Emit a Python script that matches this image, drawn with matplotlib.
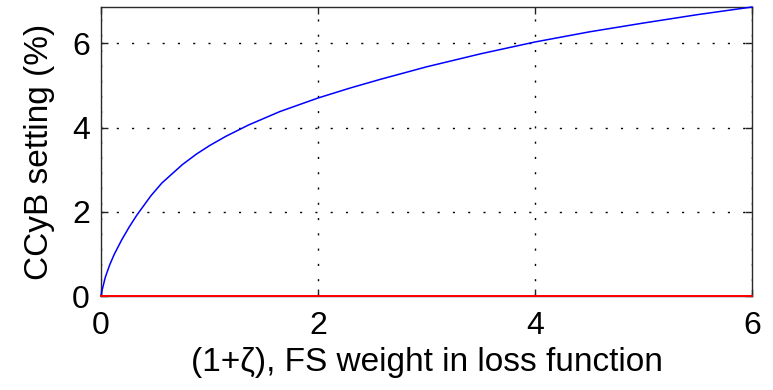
import matplotlib
matplotlib.use("Agg")
import matplotlib.pyplot as plt

# FS weight (1+zeta) against the CCyB setting it produces
weight = [0, 0.01, 0.04, 0.08, 0.12, 0.19, 0.26, 0.33, 0.46, 0.56,
          0.75, 0.88, 1.0, 1.15, 1.36, 1.65, 2.0, 2.3, 2.57, 3.0,
          3.5, 4.0, 4.5, 5.0, 5.5, 6.0]
ccyb = [0, 0.14, 0.45, 0.74, 0.98, 1.33, 1.64, 1.92, 2.38, 2.68,
        3.12, 3.37, 3.57, 3.79, 4.06, 4.38, 4.70, 4.94, 5.14, 5.44,
        5.75, 6.03, 6.27, 6.48, 6.68, 6.86]

# reference line at zero
zero_x = [0, 6]
zero_y = [0, 0]

x_ticks = [0, 2, 4, 6]
y_ticks = [0, 2, 4, 6]

plt.rcParams['font.family'] = ['Liberation Sans', 'DejaVu Sans']

fig = plt.figure(figsize=(7.73, 3.90), dpi=100)
ax = fig.add_axes([0.1307, 0.241, 0.8421, 0.741])

ax.plot(weight, ccyb, color='#0000ff', lw=1.1, zorder=4, clip_on=False)
ax.plot(zero_x, zero_y, color='#ff0000', lw=1.4, zorder=5, clip_on=False)

ax.set_xlim(0, 6)
ax.set_ylim(0, 6.86)
ax.set_xticks(x_ticks)
ax.set_yticks(y_ticks)
ax.tick_params(direction='in', length=5, width=1, labelsize=23,
               top=True, right=True, colors='#222222', labelcolor='black')
ax.tick_params(axis='x', pad=11)
ax.tick_params(axis='y', pad=8)
ax.grid(True, color='black', linestyle=(0, (1.5, 9.5)), lw=1.0)
for s in ax.spines.values():
    s.set_color('#2b2b2b')
    s.set_linewidth(1.0)

ax.set_xlabel('(1+\u03b6), FS weight in loss function', fontsize=24, labelpad=4)
ax.set_ylabel('CCyB setting (%)', fontsize=24, labelpad=12)

fig.savefig('out.png', dpi=100)
